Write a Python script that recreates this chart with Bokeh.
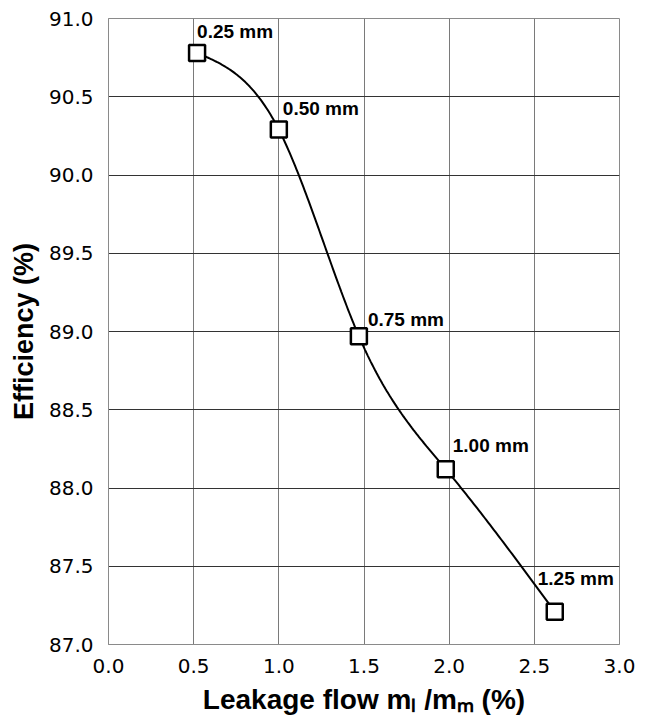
import numpy as np
from bokeh.plotting import figure
from bokeh.models import ColumnDataSource, Range1d, FixedTicker, NumeralTickFormatter
from bokeh.embed import file_html
from bokeh.resources import INLINE
from bokeh.core.properties import value

# ---- data ----
leakage = [0.52, 1.00, 1.47, 1.98, 2.62]          # leakage flow m_l/m_m (%)
efficiency = [90.78, 90.29, 88.97, 88.12, 87.21]  # efficiency (%)
clearance = ["0.25 mm", "0.50 mm", "0.75 mm", "1.00 mm", "1.25 mm"]
x_ticks = [0.0, 0.5, 1.0, 1.5, 2.0, 2.5, 3.0]
y_ticks = [87.0, 87.5, 88.0, 88.5, 89.0, 89.5, 90.0, 90.5, 91.0]

# ---- label placement (layout, screen pixels) ----
label_dx = [0, 4, 9, 7, -17]
label_dy = [-21, -21, -17, -24, -33]


def natural_spline(x, y, n=60):
    """Smooth curve through the data points (natural cubic spline)."""
    x = np.asarray(x, float)
    y = np.asarray(y, float)
    k = len(x)
    h = np.diff(x)
    A = np.zeros((k, k))
    b = np.zeros(k)
    A[0, 0] = 1.0
    A[-1, -1] = 1.0
    for i in range(1, k - 1):
        A[i, i - 1] = h[i - 1]
        A[i, i] = 2 * (h[i - 1] + h[i])
        A[i, i + 1] = h[i]
        b[i] = 6 * ((y[i + 1] - y[i]) / h[i] - (y[i] - y[i - 1]) / h[i - 1])
    M = np.linalg.solve(A, b)
    xs, ys = [], []
    for i in range(k - 1):
        t = np.linspace(x[i], x[i + 1], n)
        hi = h[i]
        s = (M[i] * (x[i + 1] - t) ** 3 / (6 * hi)
             + M[i + 1] * (t - x[i]) ** 3 / (6 * hi)
             + (y[i] / hi - M[i] * hi / 6) * (x[i + 1] - t)
             + (y[i + 1] / hi - M[i + 1] * hi / 6) * (t - x[i]))
        if i > 0:
            t, s = t[1:], s[1:]
        xs.extend(t.tolist())
        ys.extend(s.tolist())
    return xs, ys


curve_x, curve_y = natural_spline(leakage, efficiency)

p = figure(width=645, height=719, output_backend="svg", toolbar_location=None,
           x_range=Range1d(0, 3), y_range=Range1d(87, 91),
           min_border_left=108, min_border_right=26,
           min_border_top=18, min_border_bottom=75)

p.background_fill_color = "white"
p.border_fill_color = "white"
p.outline_line_color = "#8a8a8a"
p.outline_line_width = 1

FONT = "Liberation Sans"
TICK_FONT = "DejaVu Sans"

# axes
p.xaxis.ticker = FixedTicker(ticks=x_ticks)
p.yaxis.ticker = FixedTicker(ticks=y_ticks)
p.xaxis.formatter = NumeralTickFormatter(format="0.0")
p.yaxis.formatter = NumeralTickFormatter(format="0.0")
for ax in (p.xaxis, p.yaxis):
    ax.major_tick_line_color = None
    ax.minor_tick_line_color = None
    ax.axis_line_color = "#8a8a8a"
    ax.major_label_text_font = TICK_FONT
    ax.major_label_text_font_size = "20px"
    ax.major_label_text_color = "black"
    ax.axis_label_text_font = FONT
    ax.axis_label_text_font_style = "bold"
    ax.axis_label_text_color = "black"
p.xaxis.major_label_standoff = 8
p.yaxis.major_label_standoff = 9
p.xaxis.axis_label = "Leakage flow m\u2097 /m\u2098 (%)"
p.yaxis.axis_label = "Efficiency (%)"
p.xaxis.axis_label_text_font_size = "28px"
p.yaxis.axis_label_text_font_size = "27px"
p.xaxis.axis_label_standoff = 8
p.yaxis.axis_label_standoff = 7

# grid
p.xgrid.ticker = FixedTicker(ticks=x_ticks)
p.ygrid.ticker = FixedTicker(ticks=y_ticks)
p.xgrid.grid_line_color = "#7a7a7a"
p.ygrid.grid_line_color = "#333333"
p.xgrid.grid_line_width = 1
p.ygrid.grid_line_width = 1

# smooth curve
p.line(curve_x, curve_y, line_color="black", line_width=2)

# markers + labels
src = ColumnDataSource(dict(x=leakage, y=efficiency, label=clearance,
                            dx=label_dx, dy=label_dy))
p.scatter("x", "y", source=src, marker="square", size=16,
          fill_color="white", line_color="black", line_width=2.5)
p.text("x", "y", text="label", source=src, x_offset="dx", y_offset="dy",
       text_font=value(FONT), text_font_size="19px", text_font_style="bold",
       text_align="left", text_baseline="alphabetic", text_color="black")

open("out.html", "w").write(file_html(p, INLINE))
